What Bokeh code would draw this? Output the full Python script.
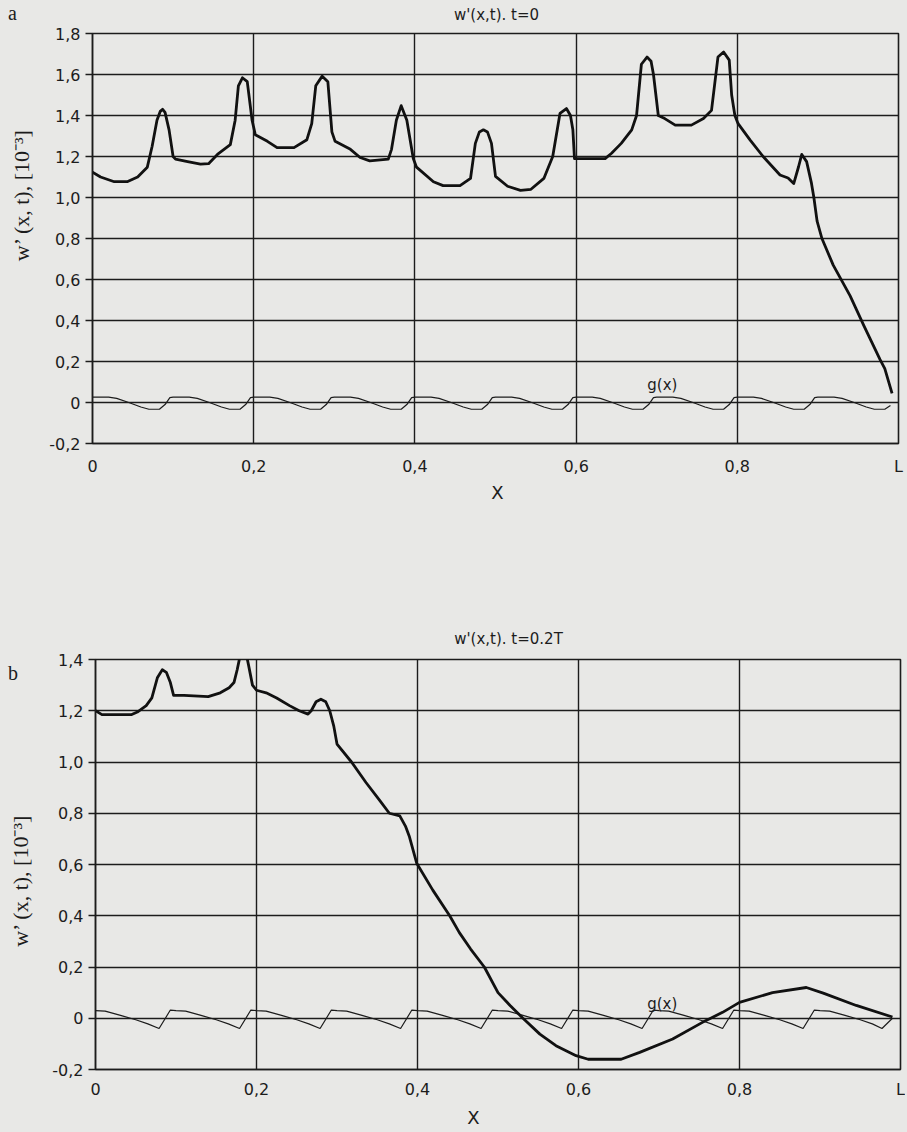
from bokeh.plotting import figure
from bokeh.layouts import column, row
from bokeh.models import Range1d, FixedTicker, Label
from bokeh.core.properties import value
from bokeh.embed import file_html
from bokeh.resources import INLINE
import math

# ---------------- data: panel a (t = 0) ----------------
xa = [0.000, 0.010, 0.027, 0.043, 0.056, 0.068, 0.074, 0.080, 0.084, 0.087, 0.090, 0.095,
      0.100, 0.103, 0.118, 0.134, 0.144, 0.155, 0.171, 0.177, 0.181, 0.186, 0.192, 0.198,
      0.202, 0.217, 0.229, 0.250, 0.266, 0.272, 0.277, 0.285, 0.292, 0.297, 0.301, 0.320,
      0.332, 0.344, 0.367, 0.371, 0.377, 0.383, 0.390, 0.398, 0.402, 0.423, 0.435, 0.456,
      0.469, 0.475, 0.480, 0.485, 0.490, 0.495, 0.500, 0.515, 0.531, 0.544, 0.560, 0.571,
      0.580, 0.588, 0.593, 0.596, 0.598, 0.636, 0.644, 0.656, 0.669, 0.675, 0.681, 0.688,
      0.693, 0.696, 0.702, 0.710, 0.723, 0.743, 0.758, 0.768, 0.776, 0.783, 0.790, 0.793,
      0.797, 0.801, 0.816, 0.832, 0.853, 0.863, 0.870, 0.876, 0.880, 0.886, 0.892, 0.895,
      0.899, 0.905, 0.919, 0.940, 0.957, 0.977, 0.983, 0.992]
wa = [1.124, 1.100, 1.077, 1.077, 1.100, 1.148, 1.250, 1.377, 1.420, 1.430, 1.415, 1.330,
      1.200, 1.187, 1.175, 1.163, 1.165, 1.210, 1.258, 1.377, 1.545, 1.584, 1.565, 1.377,
      1.306, 1.274, 1.243, 1.243, 1.282, 1.360, 1.545, 1.592, 1.565, 1.320, 1.274, 1.235,
      1.195, 1.179, 1.187, 1.235, 1.377, 1.448, 1.377, 1.190, 1.148, 1.077, 1.058, 1.058,
      1.093, 1.264, 1.320, 1.330, 1.320, 1.264, 1.103, 1.055, 1.035, 1.040, 1.093, 1.200,
      1.410, 1.434, 1.400, 1.330, 1.190, 1.190, 1.216, 1.264, 1.330, 1.400, 1.650, 1.685,
      1.665, 1.600, 1.400, 1.385, 1.353, 1.353, 1.385, 1.425, 1.685, 1.710, 1.670, 1.500,
      1.400, 1.360, 1.280, 1.200, 1.110, 1.095, 1.068, 1.150, 1.210, 1.175, 1.070, 1.000,
      0.885, 0.800, 0.670, 0.520, 0.375, 0.210, 0.165, 0.045]

gxa = [0.000, 0.020, 0.030, 0.045, 0.060, 0.070, 0.083, 0.090, 0.096,
       0.100, 0.120, 0.130, 0.145, 0.160, 0.170, 0.183, 0.190, 0.196,
       0.200, 0.220, 0.230, 0.245, 0.260, 0.270, 0.283, 0.290, 0.296,
       0.300, 0.320, 0.330, 0.345, 0.360, 0.370, 0.383, 0.390, 0.396,
       0.400, 0.420, 0.430, 0.445, 0.460, 0.470, 0.483, 0.490, 0.496,
       0.500, 0.520, 0.530, 0.545, 0.560, 0.570, 0.583, 0.590, 0.596,
       0.600, 0.620, 0.630, 0.645, 0.660, 0.670, 0.683, 0.690, 0.696,
       0.700, 0.720, 0.730, 0.745, 0.760, 0.770, 0.783, 0.790, 0.796,
       0.800, 0.820, 0.830, 0.845, 0.860, 0.870, 0.883, 0.890, 0.896,
       0.900, 0.920, 0.930, 0.945, 0.960, 0.970, 0.983, 0.990]
ga = [0.026, 0.026, 0.020, 0.000, -0.022, -0.033, -0.033, -0.010, 0.024,
      0.026, 0.026, 0.020, 0.000, -0.022, -0.033, -0.033, -0.010, 0.024,
      0.026, 0.026, 0.020, 0.000, -0.022, -0.033, -0.033, -0.010, 0.024,
      0.026, 0.026, 0.020, 0.000, -0.022, -0.033, -0.033, -0.010, 0.024,
      0.026, 0.026, 0.020, 0.000, -0.022, -0.033, -0.033, -0.010, 0.024,
      0.026, 0.026, 0.020, 0.000, -0.022, -0.033, -0.033, -0.010, 0.024,
      0.026, 0.026, 0.020, 0.000, -0.022, -0.033, -0.033, -0.010, 0.024,
      0.026, 0.026, 0.020, 0.000, -0.022, -0.033, -0.033, -0.010, 0.024,
      0.026, 0.026, 0.020, 0.000, -0.022, -0.033, -0.033, -0.010, 0.024,
      0.026, 0.026, 0.020, 0.000, -0.022, -0.033, -0.033, -0.015]

# ---------------- data: panel b (t = 0.2T) ----------------
xb = [0.000, 0.008, 0.045, 0.052, 0.063, 0.070, 0.077, 0.083, 0.088, 0.093, 0.097, 0.110,
      0.140, 0.155, 0.166, 0.172, 0.176, 0.180, 0.186, 0.190, 0.195, 0.200, 0.212, 0.225,
      0.241, 0.253, 0.264, 0.268, 0.274, 0.280, 0.286, 0.291, 0.296, 0.300, 0.318, 0.336,
      0.353, 0.365, 0.378, 0.385, 0.390, 0.399, 0.419, 0.440, 0.452, 0.466, 0.483, 0.500,
      0.515, 0.531, 0.552, 0.572, 0.597, 0.612, 0.653, 0.676, 0.717, 0.754, 0.779, 0.800,
      0.841, 0.883, 0.904, 0.945, 0.990]
wb = [1.200, 1.185, 1.185, 1.195, 1.220, 1.250, 1.330, 1.360, 1.350, 1.310, 1.260, 1.260,
      1.255, 1.270, 1.290, 1.310, 1.360, 1.420, 1.440, 1.380, 1.300, 1.280, 1.270, 1.250,
      1.220, 1.200, 1.187, 1.200, 1.235, 1.245, 1.235, 1.200, 1.140, 1.070, 1.000, 0.920,
      0.850, 0.800, 0.790, 0.750, 0.708, 0.605, 0.500, 0.400, 0.334, 0.270, 0.200, 0.100,
      0.050, 0.000, -0.062, -0.107, -0.146, -0.160, -0.160, -0.133, -0.081, -0.016, 0.023, 0.062,
      0.100, 0.120, 0.098, 0.050, 0.005]

gxb = [0.000, 0.012, 0.030, 0.050, 0.065, 0.079, 0.093,
       0.100, 0.112, 0.130, 0.150, 0.165, 0.179, 0.193,
       0.200, 0.212, 0.230, 0.250, 0.265, 0.279, 0.293,
       0.300, 0.312, 0.330, 0.350, 0.365, 0.379, 0.393,
       0.400, 0.412, 0.430, 0.450, 0.465, 0.479, 0.493,
       0.500, 0.512, 0.530, 0.550, 0.565, 0.579, 0.593,
       0.600, 0.612, 0.630, 0.650, 0.665, 0.679, 0.693,
       0.700, 0.712, 0.730, 0.750, 0.765, 0.779, 0.793,
       0.800, 0.812, 0.830, 0.850, 0.865, 0.879, 0.893,
       0.900, 0.912, 0.930, 0.950, 0.965, 0.977, 0.990]
gb = [0.030, 0.028, 0.012, -0.006, -0.022, -0.040, 0.032,
      0.030, 0.028, 0.012, -0.006, -0.022, -0.040, 0.032,
      0.030, 0.028, 0.012, -0.006, -0.022, -0.040, 0.032,
      0.030, 0.028, 0.012, -0.006, -0.022, -0.040, 0.032,
      0.030, 0.028, 0.012, -0.006, -0.022, -0.040, 0.032,
      0.030, 0.028, 0.012, -0.006, -0.022, -0.040, 0.032,
      0.030, 0.028, 0.012, -0.006, -0.022, -0.040, 0.032,
      0.030, 0.028, 0.012, -0.006, -0.022, -0.040, 0.032,
      0.030, 0.028, 0.012, -0.006, -0.022, -0.040, 0.032,
      0.030, 0.028, 0.012, -0.006, -0.022, -0.040, 0.000]

# ---------------- ticks and texts ----------------
x_ticks = [0, 0.2, 0.4, 0.6, 0.8, 1.0]
x_labels = ["0", "0,2", "0,4", "0,6", "0,8", "L"]
ya_ticks = [-0.2, 0, 0.2, 0.4, 0.6, 0.8, 1.0, 1.2, 1.4, 1.6, 1.8]
ya_labels = ["-0,2", "0", "0,2", "0,4", "0,6", "0,8", "1,0", "1,2", "1,4", "1,6", "1,8"]
yb_ticks = [-0.2, 0, 0.2, 0.4, 0.6, 0.8, 1.0, 1.2, 1.4]
yb_labels = ["-0,2", "0", "0,2", "0,4", "0,6", "0,8", "1,0", "1,2", "1,4"]
title_a = "w'(x,t). t=0"
title_b = "w'(x,t). t=0.2T"
y_title = "w’ (x, t), [10⁻³]"
x_title = "X"
g_label = "g(x)"

BG = "#e8e8e6"
INK = "#1c1c1c"
SANS = "DejaVu Sans"
SERIF = "Liberation Serif"
W = 905
LEFT_W = 40


def make_panel(width, height, left, right, top, bottom, yr, yt, yl, x_standoff):
    p = figure(width=width, height=height, x_range=Range1d(0, 1), y_range=Range1d(*yr),
               output_backend="svg", toolbar_location=None,
               min_border_left=left, min_border_right=right,
               min_border_top=top, min_border_bottom=bottom)
    p.background_fill_color = BG
    p.border_fill_color = BG
    p.outline_line_color = INK
    p.outline_line_width = 1.6
    p.xaxis.ticker = FixedTicker(ticks=x_ticks)
    p.yaxis.ticker = FixedTicker(ticks=yt)
    p.xaxis.major_label_overrides = dict(zip(x_ticks, x_labels))
    p.yaxis.major_label_overrides = dict(zip(yt, yl))
    for ax in (p.xaxis[0], p.yaxis[0]):
        ax.axis_line_color = INK
        ax.axis_line_width = 1.4
        ax.major_tick_line_color = INK
        ax.major_tick_line_width = 1.3
        ax.minor_tick_line_color = None
        ax.major_label_text_font = SANS
        ax.major_label_text_font_size = "16px"
        ax.major_label_text_color = INK
    p.xaxis.major_tick_out = 0
    p.xaxis.major_tick_in = 0
    p.xaxis.major_label_standoff = x_standoff
    p.yaxis.major_tick_out = 7
    p.yaxis.major_tick_in = 0
    p.yaxis.major_label_standoff = 5
    p.grid.grid_line_color = INK
    p.grid.grid_line_width = 1.4
    p.grid.grid_line_alpha = 1.0
    return p


def strip(width, height, items):
    """A bare canvas used only to hold the texts that sit outside the plot boxes.
    items: (x from left, y from top, text, font, size, angle)"""
    s = figure(width=width, height=height, x_range=Range1d(0, width), y_range=Range1d(0, height),
               x_axis_type=None, y_axis_type=None, output_backend="svg", toolbar_location=None,
               min_border=0, min_border_left=0, min_border_right=0,
               min_border_top=0, min_border_bottom=0)
    s.outline_line_color = None
    s.background_fill_color = BG
    s.border_fill_color = BG
    for (tx, ty, txt, font, size, ang) in items:
        s.text(x=[tx], y=[height - ty], text=[txt], text_font=value(font),
               text_font_size=value(size), text_color=INK, text_align="center",
               text_baseline="middle", angle=ang)
    return s


def g_text(p, x, y):
    p.add_layout(Label(x=x, y=y, text=g_label, text_font=SANS, text_font_size="15px",
                       text_color=INK, text_align="center", text_baseline="middle"))


# ---------------- panel a ----------------
HA = 455
pa = make_panel(W - LEFT_W, HA, 52, 7, 10, 34, (-0.2, 1.8), ya_ticks, ya_labels, 13)
pa.line(gxa, ga, line_color=INK, line_width=1.2)
pa.line(xa, wa, line_color="#111111", line_width=2.8, line_join="round")
g_text(pa, 0.707, 0.085)

top_a = strip(W, 23, [(12, 12, "a", SERIF, "20px", 0.0),
                      (496, 14.5, title_a, SANS, "15px", 0.0)])
left_a = strip(LEFT_W, HA, [(21, 179, y_title, SERIF, "22px", math.pi / 2)])

# ---------------- between the panels ----------------
mid = strip(W, 172, [(497, 14, x_title, SANS, "18px", 0.0),
                     (508, 160, title_b, SANS, "15px", 0.0)])

# ---------------- panel b ----------------
HB = 451
pb = make_panel(W - LEFT_W, HB, 55, 5, 9, 30, (-0.2, 1.4), yb_ticks, yb_labels, 10)
pb.line(gxb, gb, line_color=INK, line_width=1.2)
pb.line(xb, wb, line_color="#111111", line_width=2.8, line_join="round")
g_text(pb, 0.704, 0.054)

left_b = strip(LEFT_W, HB, [(12.5, 15, "b", SERIF, "20px", 0.0),
                            (19.5, 243, y_title, SERIF, "22px", math.pi / 2)])
bottom_b = strip(W, 29, [(473, 16, x_title, SANS, "18px", 0.0)])

layout = column(top_a, row(left_a, pa, spacing=0), mid, row(left_b, pb, spacing=0), bottom_b,
                spacing=0)

html = file_html(layout, INLINE)
html = html.replace("<head>", "<head><style>body{background:%s;}</style>" % BG, 1)
open("out.html", "w").write(html)
